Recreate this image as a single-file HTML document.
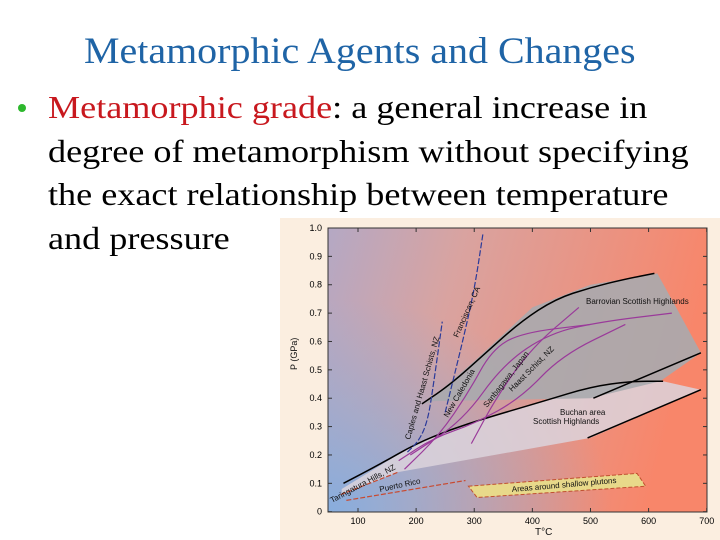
<!DOCTYPE html>
<html><head><meta charset="utf-8">
<style>
body{margin:0;width:720px;height:540px;background:#fff;overflow:hidden;position:relative;font-family:"Liberation Serif",serif}
#title{position:absolute;left:84px;top:30px;white-space:nowrap;font-size:37px;color:#1f64a6;line-height:44px;transform:scaleX(1.08);transform-origin:0 0}
#bullet{position:absolute;left:48px;top:86px;font-size:32px;line-height:43.7px;color:#000;white-space:nowrap;transform:scaleX(1.13);transform-origin:0 0}
#dot{position:absolute;left:18px;top:104px;width:8px;height:8px;border-radius:50%;background:#2db82d}
.red{color:#c8181e}
svg{position:absolute;left:0;top:0}
</style></head><body>
<div id="title">Metamorphic Agents and Changes</div>
<div id="dot"></div>
<div id="bullet"><span class="red">Metamorphic grade</span>: a general increase in<br>degree of metamorphism without specifying<br>the exact relationship between temperature<br>and pressure</div>
<svg id="chart" width="720" height="540">
<defs><linearGradient id="bg" x1="0" y1="0" x2="1" y2="0.2">
<stop offset="0" stop-color="#b4a8c4"/><stop offset="0.35" stop-color="#d9a3a0"/><stop offset="1" stop-color="#f8866a"/></linearGradient>
<radialGradient id="bg2" cx="0" cy="1" r="0.75" gradientUnits="objectBoundingBox"><stop offset="0" stop-color="#85aee0" stop-opacity="0.95"/><stop offset="1" stop-color="#85aee0" stop-opacity="0"/></radialGradient></defs>
<rect x="280" y="218" width="440" height="322" fill="#fbeee0"/>
<rect x="328" y="228" width="379" height="284" fill="url(#bg)"/>
<rect x="328" y="228" width="379" height="284" fill="url(#bg2)"/>
<g id="marks"></g>
</svg>
<script>
const xTicks=[100,200,300,400,500,600,700];
const yTicks=[0,0.1,0.2,0.3,0.4,0.5,0.6,0.7,0.8,0.9,1.0];
const yTickLabels=["0","0.1","0.2","0.3","0.4","0.5","0.6","0.7","0.8","0.9","1.0"];
const barrovianRegion=[[215,0.38],[300,0.53],[400,0.72],[500,0.80],[615,0.84],[650,0.71],[690,0.56],[620,0.46],[500,0.40],[230,0.39]];
const buchanRegion=[[72,0.08],[200,0.24],[320,0.33],[500,0.44],[625,0.46],[690,0.43],[500,0.26],[170,0.14],[72,0.06]];
const plutonRegion=[[290,0.09],[580,0.135],[595,0.09],[305,0.05]];
const barrovianUpper=[[210,0.38],[260,0.45],[320,0.56],[380,0.67],[440,0.75],[500,0.79],[560,0.82],[610,0.84]];
const buchanUpper=[[75,0.10],[140,0.17],[200,0.24],[260,0.29],[320,0.33],[420,0.39],[500,0.44],[570,0.46],[625,0.46]];
const barrovianLower=[[505,0.40],[690,0.56]];
const buchanLower=[[495,0.26],[690,0.43]];
const caples=[[185,0.21],[205,0.25],[220,0.32],[230,0.45],[245,0.67]];
const franciscan=[[250,0.35],[262,0.45],[280,0.60],[300,0.78],[315,0.98]];
const purple1=[[180,0.15],[240,0.27],[290,0.42],[330,0.57],[380,0.63],[500,0.66]];
const purple2=[[190,0.20],[280,0.32],[350,0.52],[430,0.63],[520,0.67],[640,0.70]];
const purple3=[[295,0.24],[340,0.41],[400,0.58],[480,0.72]];
const purple4=[[170,0.18],[230,0.26],[300,0.31],[380,0.40],[450,0.55],[560,0.66]];
const puertoRico=[[80,0.04],[285,0.11]];
const taringatura=[[70,0.06],[170,0.14]];
const X=t=>358+(t-100)*0.5812, Y=p=>511.7-p*283.7;
const g=document.getElementById('marks');
const NS='http://www.w3.org/2000/svg';
function mk(tag,attrs){const e=document.createElementNS(NS,tag);for(const k in attrs)e.setAttribute(k,attrs[k]);g.appendChild(e);return e;}
const pts=a=>a.map(p=>X(p[0]).toFixed(1)+','+Y(p[1]).toFixed(1)).join(' ');
function curve(a){let d='M'+X(a[0][0])+','+Y(a[0][1]);for(let i=1;i<a.length;i++){const p0=a[i-1],p1=a[i];const mx=(X(p0[0])+X(p1[0]))/2,my=(Y(p0[1])+Y(p1[1]))/2;d+=(i==1?' L':' Q'+X(p0[0])+','+Y(p0[1])+' ')+mx+','+my;}const l=a[a.length-1];return d+' L'+X(l[0])+','+Y(l[1]);}
let e;
e=mk('polygon',{points:pts(buchanRegion),fill:'#dcd4dc',opacity:'0.85'});


e=mk('polygon',{points:pts(barrovianRegion),fill:'#a9aaae',opacity:'0.9'});


e=mk('polygon',{points:pts(plutonRegion),fill:'#e8d98a',stroke:'#c05030','stroke-dasharray':'4,2'});


const lines=[[barrovianUpper,'#000',1.5,'','barrovian-upper-line'],[buchanUpper,'#000',1.5,'','buchan-upper-line'],[barrovianLower,'#000',1.5,'','barrovian-lower-line'],[buchanLower,'#000',1.5,'','buchan-lower-line'],[caples,'#2a3a9a',1.2,'6,2','caples-line'],[franciscan,'#2a3a9a',1.2,'6,2','franciscan-line'],[purple1,'#9a3a9a',1.2,'','new-caledonia-line'],[purple2,'#9a3a9a',1.2,'','haast-line'],[purple3,'#9a3a9a',1.2,'','sanbagawa-line'],[purple4,'#9a3a9a',1.2,'','purple-line-4'],[puertoRico,'#c84a30',1.2,'5,2','puerto-rico-line'],[taringatura,'#c84a30',1.2,'5,2','taringatura-line']];
lines.forEach(l=>{e=mk('path',{d:curve(l[0]),fill:'none',stroke:l[1],'stroke-width':l[2],'stroke-dasharray':l[3]});

});
e=mk('rect',{x:328,y:228,width:379,height:284,fill:'none',stroke:'#333','stroke-width':1});


xTicks.forEach(t=>{e=mk('text',{x:X(t),y:524,'font-size':9,'text-anchor':'middle','font-family':'Liberation Sans, sans-serif'});e.textContent=t;


mk('line',{x1:X(t),x2:X(t),y1:512,y2:508,stroke:'#333'});mk('line',{x1:X(t),x2:X(t),y1:228,y2:232,stroke:'#333'});});
yTicks.forEach((p,i)=>{e=mk('text',{x:322,y:Y(p)+3,'font-size':9,'text-anchor':'end','font-family':'Liberation Sans, sans-serif'});e.textContent=yTickLabels[i];


mk('line',{x1:328,x2:332,y1:Y(p),y2:Y(p),stroke:'#333'});mk('line',{x1:707,x2:703,y1:Y(p),y2:Y(p),stroke:'#333'});});
const labels=[['T°C',535,535,0,10,'x-axis-title'],['P (GPa)',297,370,-90,9,'y-axis-title'],['Barrovian Scottish Highlands',586,304,0,8,'barrovian-label'],['Buchan area',560,415,0,8,'buchan-label'],['Scottish Highlands',533,424,0,8,'buchan-label-2'],['Areas around shallow plutons',512,492,-5,8,'plutons-label'],['Puerto Rico',380,492,-12,8,'puerto-rico-label'],['Taringatura Hills, NZ',332,503,-28,8,'taringatura-label'],['Caples and Haast Schists, NZ',410,440,-74,8,'caples-label'],['Franciscan, CA',458,338,-66,8,'franciscan-label'],['New Caledonia',448,418,-60,8,'new-caledonia-label'],['Sanbagawa, Japan',487,408,-52,8,'sanbagawa-label'],['Haast Schist, NZ',512,392,-45,8,'haast-label']];
labels.forEach(l=>{e=mk('text',{x:l[1],y:l[2],'font-size':l[4],transform:`rotate(${l[3]} ${l[1]} ${l[2]})`,'font-family':'Liberation Sans, sans-serif',fill:'#111'});e.textContent=l[0];

});
</script>
</body></html>
